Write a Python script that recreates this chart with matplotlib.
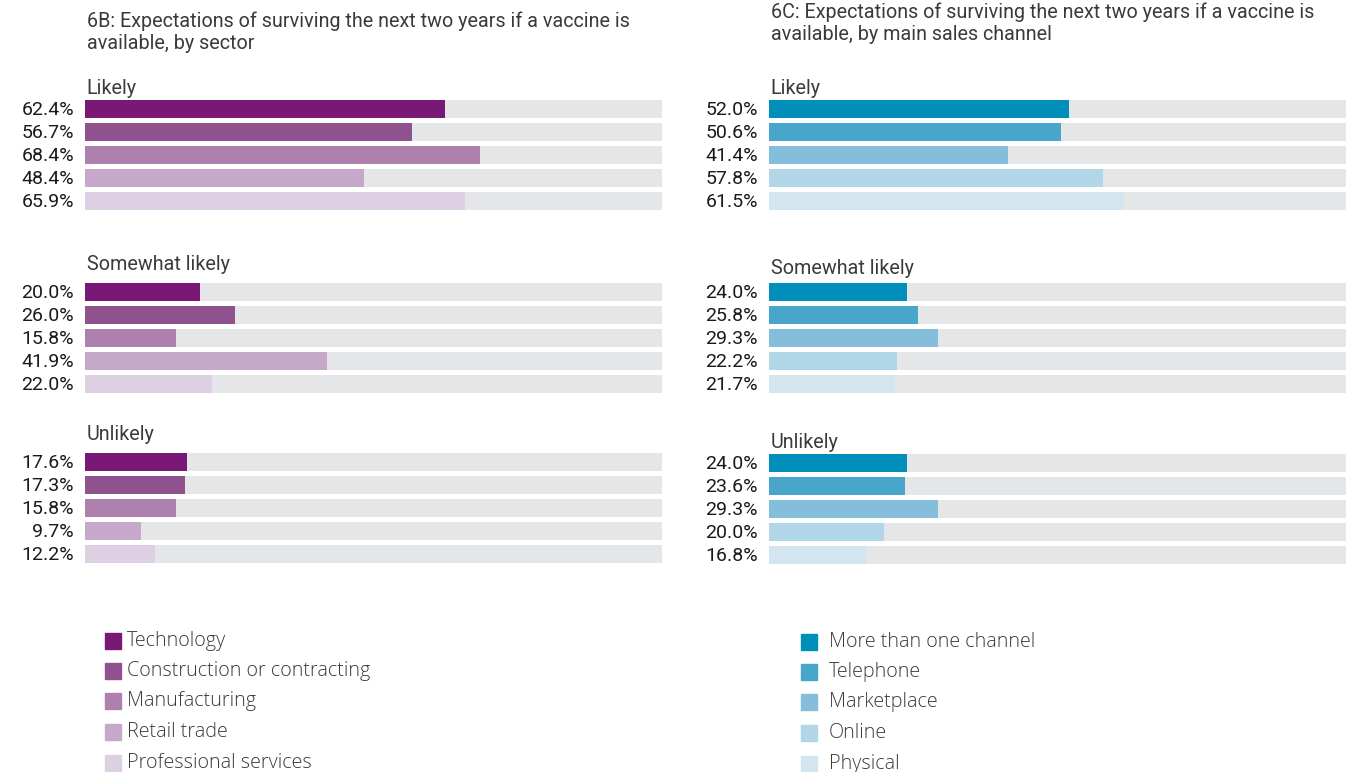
import matplotlib
matplotlib.use("Agg")
import matplotlib.pyplot as plt
from matplotlib.patches import Rectangle

# Data
groups = ["Likely", "Somewhat likely", "Unlikely"]

sectors = ["Technology", "Construction or contracting", "Manufacturing",
           "Retail trade", "Professional services"]
sector_likely = [62.4, 56.7, 68.4, 48.4, 65.9]
sector_somewhat = [20.0, 26.0, 15.8, 41.9, 22.0]
sector_unlikely = [17.6, 17.3, 15.8, 9.7, 12.2]

channels = ["More than one channel", "Telephone", "Marketplace",
            "Online", "Physical"]
channel_likely = [52.0, 50.6, 41.4, 57.8, 61.5]
channel_somewhat = [24.0, 25.8, 29.3, 22.2, 21.7]
channel_unlikely = [24.0, 23.6, 29.3, 20.0, 16.8]

titles = ["6B: Expectations of surviving the next two years if a vaccine is\navailable, by sector",
          "6C: Expectations of surviving the next two years if a vaccine is\navailable, by main sales channel"]

purples = ["#7a1876", "#8f528f", "#ad80ae", "#c5a8ca", "#ddd0e2"]
blues = ["#008fba", "#48a6cb", "#84bedb", "#b1d6e8", "#d3e6ef"]
track = "#e5e6e8"
txt = "#3a3a3a"

W, H = 1355, 772
fig = plt.figure(figsize=(W / 100, H / 100), dpi=100)

chart_font = ["Roboto", "DejaVu Sans"]
legend_font = ["Open Sans", "DejaVu Sans"]

panels = [
    dict(x0=85, title_y=32, group_label_y=[88, 264, 435], first_bar=[109, 292, 462],
         data=[sector_likely, sector_somewhat, sector_unlikely], colors=purples,
         names=sectors, leg_x=105, leg_gap=6, leg_y=[641, 671, 701, 732, 763]),
    dict(x0=769, title_y=23, group_label_y=[88, 269, 442], first_bar=[109, 292, 463],
         data=[channel_likely, channel_somewhat, channel_unlikely], colors=blues,
         names=channels, leg_x=801, leg_gap=12, leg_y=[642, 672, 702, 733, 764]),
]

bar_w = 577
step = 23
bar_h = 18

for p, title in zip(panels, titles):
    ax = fig.add_axes([p["x0"] / W, 0, bar_w / W, 1])
    ax.set_xlim(0, 100)
    ax.set_ylim(H, 0)
    ax.axis("off")

    ax.text(0.3, p["title_y"], title, fontsize=14.2, color=txt, va="center",
            linespacing=1.2, family=chart_font)

    for g, vals, ly, fy in zip(groups, p["data"], p["group_label_y"], p["first_bar"]):
        ax.text(0.3, ly, g, fontsize=14.2, color=txt, va="center", family=chart_font)
        ys = [fy + i * step for i in range(len(vals))]
        ax.barh(ys, [100] * len(vals), height=bar_h, color=track)
        ax.barh(ys, vals, height=bar_h, color=p["colors"])
        for y, v in zip(ys, vals):
            ax.text(-1.9, y + 1, f"{v:.1f}%", fontsize=14, color="#1a1a1a", ha="right",
                    va="center", family=chart_font)

    # legend
    for name, c, y in zip(p["names"], p["colors"], p["leg_y"]):
        fig.patches.append(Rectangle((p["leg_x"] / W, 1 - (y + 8) / H), 16 / W, 16 / H,
                                     transform=fig.transFigure, color=c))
        fig.text((p["leg_x"] + 16 + p["leg_gap"]) / W, 1 - y / H, name, fontsize=14.2,
                 color="#3a3a3a", va="center", family=legend_font, fontweight="light")

fig.savefig("out.png", dpi=100, facecolor="white")
